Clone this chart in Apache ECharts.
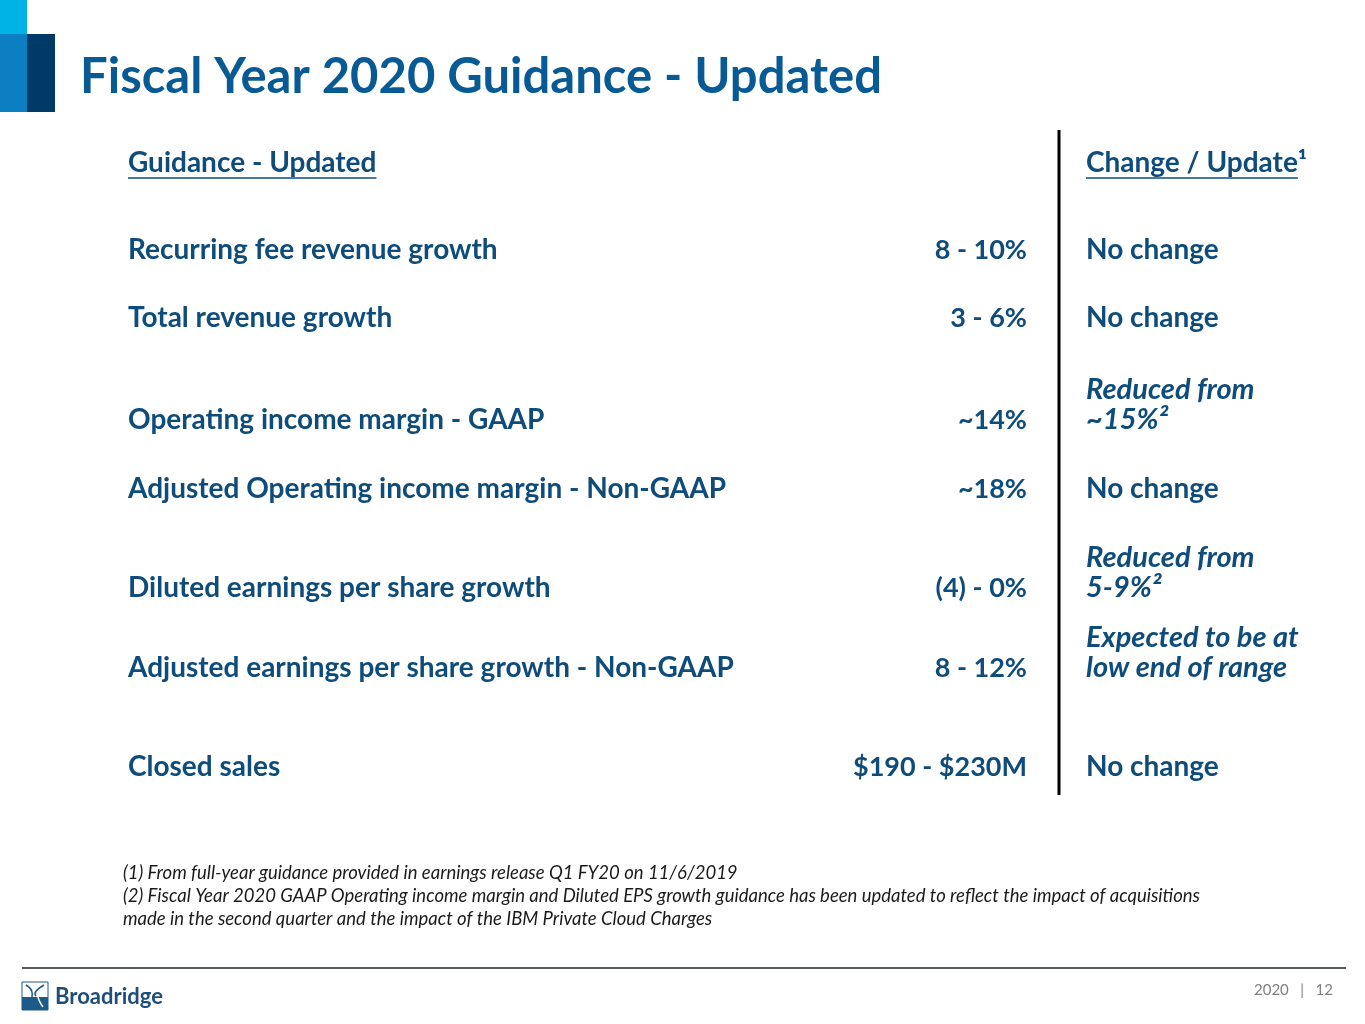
<!DOCTYPE html>
<html><head><meta charset="utf-8">
<script src="https://cdn.jsdelivr.net/npm/echarts@6/dist/echarts.min.js"></script>
<style>html,body{margin:0;padding:0;background:#fff}#c{width:1365px;height:1024px}</style>
</head><body><div id="c"></div>
<script>
var title = 'Fiscal Year 2020 Guidance - Updated';
var headerLeft = 'Guidance - Updated';
var headerRight = 'Change / Update¹';
var metrics = ['Recurring fee revenue growth','Total revenue growth','Operating income margin - GAAP','Adjusted Operating income margin - Non-GAAP','Diluted earnings per share growth','Adjusted earnings per share growth - Non-GAAP','Closed sales'];
var guidance = ['8 - 10%','3 - 6%','~14%','~18%','(4) - 0%','8 - 12%','$190 - $230M'];
var changes = ['No change','No change','Reduced from\n~15%²','No change','Reduced from\n5-9%²','Expected to be at\nlow end of range','No change'];
var footnotes = ['(1) From full-year guidance provided in earnings release Q1 FY20 on 11/6/2019','(2) Fiscal Year 2020 GAAP Operating income margin and Diluted EPS growth guidance has been updated to reflect the impact of acquisitions','made in the second quarter and the impact of the IBM Private Cloud Charges'];
var footerText = '2020   |   12';

var FONT = 'Lato';
var NAVY = '#0e4c7c';
var rowY = [250, 318, 420, 489, 588, 668, 767];

function measure(t, font){var c=document.createElement('canvas').getContext('2d');c.font=font;return c.measureText(t).width;}

var els = [];
// logo blocks
els.push({type:'rect',shape:{x:0,y:0,width:27,height:34},style:{fill:'#00b3e6'}});
els.push({type:'rect',shape:{x:0,y:34,width:27,height:78},style:{fill:'#0b7fc1'}});
els.push({type:'rect',shape:{x:27,y:34,width:28,height:78},style:{fill:'#003a68'}});
// title
els.push({type:'text',x:80,y:77,style:{text:title,fill:'#075a93',font:'bold 49px '+FONT,textVerticalAlign:'middle'}});
// headers
var hf = 'bold 28px '+FONT;
var vf = 'bold 27px '+FONT;
els.push({type:'text',x:128,y:163,style:{text:headerLeft,fill:NAVY,font:hf,textVerticalAlign:'middle'}});
els.push({type:'line',shape:{x1:128,y1:178,x2:128+measure(headerLeft,hf),y2:178},style:{stroke:NAVY,lineWidth:1.5}});
els.push({type:'text',x:1086,y:163,style:{text:headerRight,fill:NAVY,font:hf,textVerticalAlign:'middle'}});
els.push({type:'line',shape:{x1:1086,y1:178,x2:1086+measure('Change / Update',hf),y2:178},style:{stroke:NAVY,lineWidth:1.5}});
// divider
els.push({type:'line',shape:{x1:1059,y1:130,x2:1059,y2:795},style:{stroke:'#000',lineWidth:3}});
// rows
metrics.forEach(function(m,i){
  var y=rowY[i];
  els.push({type:'text',x:128,y:y,style:{text:m,fill:NAVY,font:hf,textVerticalAlign:'middle'}});
  els.push({type:'text',x:1027,y:y,style:{text:guidance[i],fill:NAVY,font:vf,textAlign:'right',textVerticalAlign:'middle'}});
  var ch=changes[i];
  var multi=ch.indexOf('\n')>=0;
  els.push({type:'text',x:1086,y:multi?y-15:y,style:{text:ch,fill:NAVY,font:(multi?'italic bold 29px ':'bold 28px ')+FONT,lineHeight:30,textVerticalAlign:'middle'}});
});
// footnotes
footnotes.forEach(function(f,i){
  els.push({type:'text',x:123,y:873+i*23,style:{text:f,fill:'#1a1a1a',font:'italic 18.5px '+FONT,textVerticalAlign:'middle'}});
});
// footer line
els.push({type:'line',shape:{x1:22,y1:968,x2:1346,y2:968},style:{stroke:'#555b5f',lineWidth:2}});
// broadridge logo
els.push({type:'rect',shape:{x:22,y:982,width:26,height:28},style:{fill:'#fff',stroke:'#1c5a8a',lineWidth:1}});
els.push({type:'rect',shape:{x:22,y:997,width:26,height:13},style:{fill:'#1c5a8a'}});
els.push({type:'bezierCurve',shape:{x1:26,y1:985,cpx1:38,cpy1:992,x2:27,y2:1007},style:{stroke:'#1c5a8a',fill:null,lineWidth:1.5}});
els.push({type:'bezierCurve',shape:{x1:44,y1:985,cpx1:32,cpy1:992,x2:43,y2:1007},style:{stroke:'#fff',fill:null,lineWidth:1.5}});
els.push({type:'bezierCurve',shape:{x1:44,y1:985,cpx1:32,cpy1:992,x2:36,y2:996},style:{stroke:'#1c5a8a',fill:null,lineWidth:1.5}});
els.push({type:'text',x:55,y:997,style:{text:'Broadridge',fill:'#1f4e79',font:'bold 22px '+FONT,textVerticalAlign:'middle'}});
els.push({type:'text',x:1333,y:990,style:{text:footerText,fill:'#7f7f7f',font:'15px '+FONT,textAlign:'right',textVerticalAlign:'middle'}});

var chart = echarts.init(document.getElementById('c'));
chart.setOption({backgroundColor:'#fff',animation:false,graphic:{elements:els}});
</script></body></html>
